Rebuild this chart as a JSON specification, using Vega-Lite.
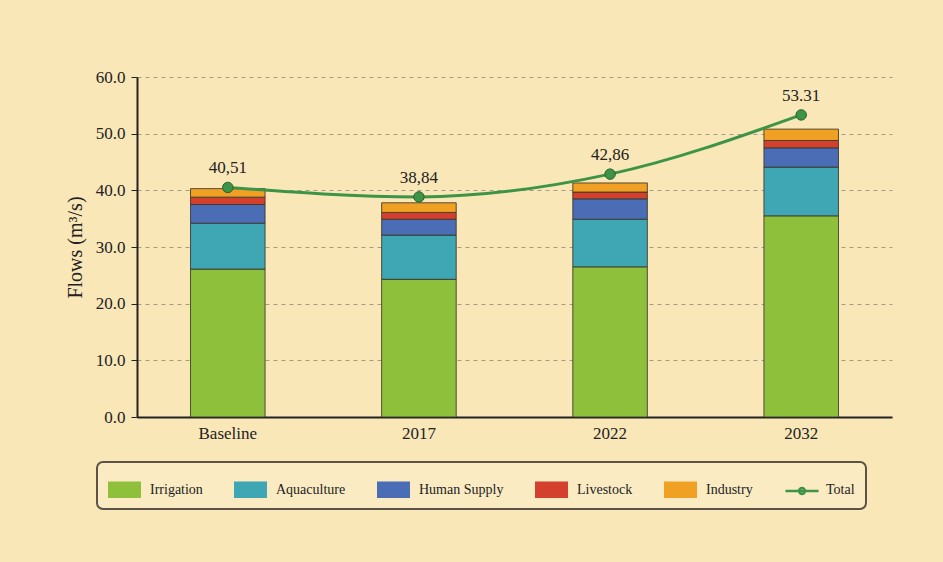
{
  "$schema": "https://vega.github.io/schema/vega-lite/v6.json",
  "width": 755,
  "height": 340,
  "autosize": {"type": "none"},
  "padding": {"left": 137, "top": 77, "right": 51, "bottom": 145},
  "background": "#f9e7b8",
  "config": {
    "font": "Liberation Serif",
    "view": {"stroke": null},
    "legend": {"strokeWidth": 2},
    "axis": {"labelFont": "Liberation Serif", "titleFont": "Liberation Serif", "labelColor": "#222", "titleColor": "#222"}
  },
  "datasets": {
    "flows": [
      {"period": "Baseline", "use": "Irrigation", "flow": 26.1},
      {"period": "Baseline", "use": "Aquaculture", "flow": 8.1},
      {"period": "Baseline", "use": "Human Supply", "flow": 3.3},
      {"period": "Baseline", "use": "Livestock", "flow": 1.3},
      {"period": "Baseline", "use": "Industry", "flow": 1.5},
      {"period": "2017", "use": "Irrigation", "flow": 24.3},
      {"period": "2017", "use": "Aquaculture", "flow": 7.8},
      {"period": "2017", "use": "Human Supply", "flow": 2.8},
      {"period": "2017", "use": "Livestock", "flow": 1.2},
      {"period": "2017", "use": "Industry", "flow": 1.7},
      {"period": "2022", "use": "Irrigation", "flow": 26.5},
      {"period": "2022", "use": "Aquaculture", "flow": 8.4},
      {"period": "2022", "use": "Human Supply", "flow": 3.6},
      {"period": "2022", "use": "Livestock", "flow": 1.2},
      {"period": "2022", "use": "Industry", "flow": 1.6},
      {"period": "2032", "use": "Irrigation", "flow": 35.5},
      {"period": "2032", "use": "Aquaculture", "flow": 8.6},
      {"period": "2032", "use": "Human Supply", "flow": 3.4},
      {"period": "2032", "use": "Livestock", "flow": 1.3},
      {"period": "2032", "use": "Industry", "flow": 2.0}
    ],
    "totals": [
      {"period": "Baseline", "total": 40.51, "label": "40,51"},
      {"period": "2017", "total": 38.84, "label": "38,84"},
      {"period": "2022", "total": 42.86, "label": "42,86"},
      {"period": "2032", "total": 53.31, "label": "53.31"}
    ]
  },
  "encoding": {
    "x": {
      "field": "period", "type": "nominal",
      "sort": ["Baseline", "2017", "2022", "2032"],
      "scale": {"paddingInner": 0.61, "paddingOuter": 0.28},
      "axis": {
        "title": null, "labelAngle": 0, "labelFontSize": 17, "labelPadding": 8,
        "ticks": false, "domainColor": "#222", "domainWidth": 2, "grid": false
      }
    }
  },
  "layer": [
    {
      "data": {"name": "flows"},
      "transform": [
        {"calculate": "indexof(['Irrigation','Aquaculture','Human Supply','Livestock','Industry'], datum.use)", "as": "stackRank"}
      ],
      "mark": {"type": "bar", "stroke": "#3a3528", "strokeWidth": 1, "strokeOpacity": 0.85},
      "encoding": {
        "y": {
          "field": "flow", "type": "quantitative", "aggregate": "sum",
          "scale": {"domain": [0, 60], "nice": false},
          "axis": {
            "title": "Flows (m³/s)", "titleFontSize": 20, "titleFontWeight": "normal", "titlePadding": 10,
            "format": ".1f", "labelFontSize": 17, "labelPadding": 6, "values": [0, 10, 20, 30, 40, 50, 60],
            "tickSize": 6, "tickColor": "#222", "domainColor": "#222", "domainWidth": 2,
            "grid": true, "gridColor": "#a89c86", "gridDash": [4, 4], "gridWidth": 1
          }
        },
        "color": {
          "field": "use", "type": "nominal",
          "sort": ["Irrigation", "Aquaculture", "Human Supply", "Livestock", "Industry"],
          "scale": {
            "domain": ["Irrigation", "Aquaculture", "Human Supply", "Livestock", "Industry", "Total"],
            "range": ["#8fc03c", "#3fa6b4", "#4a6db6", "#d4402e", "#f0a124", "transparent"]
          },
          "legend": {
            "title": null, "orient": "none", "direction": "horizontal",
            "legendX": -40, "legendY": 385,
            "labelFontSize": 14, "labelColor": "#222", "labelFont": "Liberation Serif",
            "symbolType": "M-1,-0.5H1V0.5H-1Z",
            "symbolSize": 1089, "labelOffset": 9, "columnPadding": 31,
            "symbolStrokeWidth": 0,
            "padding": 11, "fillColor": "#faebc2", "strokeColor": "#5c5248", "cornerRadius": 6,
            "symbolOpacity": 1
          }
        },
        "order": {"field": "stackRank", "type": "quantitative", "sort": "ascending"}
      }
    },
    {
      "data": {"name": "totals"},
      "mark": {"type": "line", "strokeWidth": 3, "interpolate": "monotone"},
      "encoding": {
        "y": {"field": "total", "type": "quantitative"},
        "stroke": {
          "datum": "Total", "type": "nominal",
          "scale": {"domain": ["Total"], "range": ["#3d9446"]},
          "legend": {
            "title": null, "orient": "none", "legendX": 636, "legendY": 385,
            "symbolType": "M-1,0H1M0.18,0A0.18,0.18 0 1,1 -0.18,0A0.18,0.18 0 1,1 0.18,0Z",
            "symbolSize": 1089, "symbolStrokeWidth": 2.5, "symbolOpacity": 1,
            "labelExpr": "''", "padding": 11
          }
        }
      }
    },
    {
      "data": {"name": "totals"},
      "mark": {"type": "point", "filled": true, "size": 110, "color": "#3d9446", "stroke": "#2a5f2e", "strokeWidth": 1, "opacity": 1},
      "encoding": {"y": {"field": "total", "type": "quantitative"}}
    },
    {
      "data": {"name": "totals"},
      "mark": {"type": "text", "dy": -19, "fontSize": 17, "color": "#222", "font": "Liberation Serif"},
      "encoding": {"y": {"field": "total", "type": "quantitative"}, "text": {"field": "label"}}
    }
  ]
}
